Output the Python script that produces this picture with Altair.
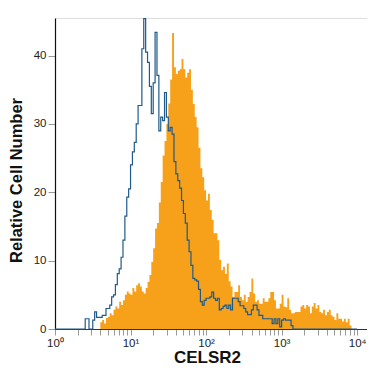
import altair as alt
import pandas as pd

# Histogram binning: 160 bins, each 0.025 decade wide, from 10^0 to 10^4
bin_width_decades = 0.025
n_bins = 160

# Isotype control (blue outline), counts per bin
blue_counts = [0]*16 + [
    1.5, 1.5, 0, 0, 1.3, 2.5, 1.7, 1.7, 1.7, 2.0,            # 16-25
    2.0, 3.0, 3.0, 3.5, 4.7, 5.0, 6.5, 8.1, 8.8, 10.5,       # 26-35
    13.0, 16.5, 19.3, 20.5, 24.0, 25.9, 27.3, 30.0, 32.7, 32.7,  # 36-45
    41.0, 45.4, 40.5, 39.0, 35.5, 31.5, 36.0, 43.4, 37.1, 29.0,  # 46-55
    31.0, 30.5, 34.6, 31.0, 29.0, 29.5, 28.5, 24.5, 22.7, 21.7,  # 56-65
    20.6, 18.8, 16.9, 15.5, 13.0, 11.3, 9.3, 7.4, 7.2, 7.0,      # 66-75
    5.8, 4.0, 3.5, 4.2, 4.5, 4.5, 4.7, 5.4, 4.5, 4.2,            # 76-85
    4.5, 2.8, 3.0, 3.3, 3.5, 3.0, 3.5, 2.8, 4.5, 4.5,            # 86-95
    4.5, 4.0, 3.4, 3.4, 3.0, 2.5, 2.1, 2.1, 2.8, 3.5,            # 96-105
    3.5, 2.8, 2.0, 2.0, 1.5, 1.5, 1.5, 1.5, 1.5, 0.8,            # 106-115
    1.5, 0.8, 1.5, 0.3, 1.3, 1.5, 1.3, 1.3, 1.3, 0.5,            # 116-125
] + [0]*34

# CELSR2 stained (orange fill), counts per bin
orange_counts = [0]*24 + [
    1.0, 1.3, 0.8, 1.6, 1.8, 2.3, 2.0, 2.8, 3.3, 3.0,            # 24-33
    4.0, 3.5, 4.2, 5.0, 5.5, 5.2, 5.0, 6.0, 5.5, 6.4,            # 34-43
    6.7, 6.2, 5.5, 5.2, 6.0, 6.9, 7.9, 9.8, 11.8, 14.7,          # 44-53
    15.5, 18.5, 21.5, 25.4, 27.5, 30.0, 33.0, 36.5, 43.3, 38.3,  # 54-63
    37.3, 37.8, 38.0, 39.5, 38.0, 36.8, 37.5, 38.0, 35.0, 32.9,  # 64-73
    31.0, 29.5, 26.5, 23.5, 22.2, 20.3, 18.8, 19.8, 17.4, 16.0,  # 74-83
    14.0, 14.0, 13.0, 10.1, 8.6, 9.1, 8.1, 9.6, 7.0, 6.2,        # 84-93
    4.7, 5.4, 5.4, 6.4, 4.7, 4.2, 5.0, 4.0, 4.7, 5.4,            # 94-103
    7.4, 5.2, 4.0, 4.2, 3.7, 3.7, 4.5, 4.0, 4.0, 4.5,            # 104-113
    5.4, 5.4, 4.2, 3.0, 3.0, 3.7, 5.0, 3.3, 3.2, 4.5,            # 114-123
    2.8, 2.3, 2.3, 2.5, 2.5, 2.5, 3.3, 3.5, 3.0, 3.5,            # 124-133
    3.3, 2.3, 3.3, 3.8, 3.0, 3.5, 2.5, 2.3, 2.8, 2.0,            # 134-143
    2.5, 2.8, 2.0, 1.8, 1.3, 2.3, 1.5, 1.5, 1.1, 1.5,            # 144-153
    1.0, 1.5, 0.5,                                               # 154-156
] + [0]*3

tick_values = [m * 10**d for d in range(4) for m in range(1, 10)] + [10000]
tick_labels = ["10⁰", "10¹", "10²", "10³", "10⁴"]
y_ticks = [0, 10, 20, 30, 40]

edges = [10 ** (i * bin_width_decades) for i in range(n_bins + 1)]

blue_df = pd.DataFrame({
    "x": edges,
    "y": blue_counts + [blue_counts[-1]],
})

first = next(i for i, v in enumerate(orange_counts) if v > 0)
last = max(i for i, v in enumerate(orange_counts) if v > 0)
orange_df = pd.DataFrame({
    "x": edges[first:last + 2],
    "y": orange_counts[first:last + 1] + [0],
})

label_expr = " : ".join(
    f"datum.value == {10**k} ? '{lab}'" for k, lab in enumerate(tick_labels)
) + " : ''"

xscale = alt.Scale(type="log", domain=[1, 13500], nice=False)
yscale = alt.Scale(domain=[0, 45.5], nice=False)

xaxis = alt.Axis(
    title="CELSR2", values=tick_values, labelExpr=label_expr,
    labelOverlap=False, labelFlush=False, grid=False,
    tickColor="#9a9a9a", tickSize=6, tickWidth=1,
    domainColor="#333333", domainWidth=1.2,
    labelFont="Liberation Sans", labelFontSize=11.5, labelColor="#222222",
    labelPadding=2,
    titleFont="Liberation Sans", titleFontSize=17, titleFontWeight="bold",
    titleColor="#111111", titleX=152, titleY=33, titleBaseline="alphabetic",
    titleAlign="center",
)
yaxis = alt.Axis(
    title="Relative Cell Number", values=y_ticks, grid=False,
    labelFlush=False, labelOverlap=False,
    tickColor="#9a9a9a", tickSize=7, tickWidth=1,
    domainColor="#111111", domainWidth=1.2,
    labelFont="Liberation Sans", labelFontSize=11.5, labelColor="#222222",
    labelPadding=2,
    titleFont="Liberation Sans", titleFontSize=16.5, titleFontWeight="bold",
    titleColor="#111111", titleX=-34, titleY=162, titleBaseline="alphabetic",
    titleAlign="center", titleAngle=270,
)

orange = alt.Chart(orange_df).mark_area(
    interpolate="step-after", color="#f7a11a", opacity=1
).encode(
    x=alt.X("x:Q", scale=xscale, axis=xaxis),
    y=alt.Y("y:Q", scale=yscale, axis=yaxis),
)

blue = alt.Chart(blue_df).mark_line(
    interpolate="step-after", color="#1f5a8a", strokeWidth=1.2
).encode(
    x=alt.X("x:Q", scale=xscale),
    y=alt.Y("y:Q", scale=yscale),
)

chart = alt.layer(orange, blue).properties(
    width=312, height=311,
    autosize=alt.AutoSizeParams(type="none"),
    padding={"left": 47, "top": 10, "right": 0, "bottom": 38},
).configure_view(stroke=None).configure(background="white")

chart.save("out.html", embed_options={"renderer": "svg", "actions": False})
